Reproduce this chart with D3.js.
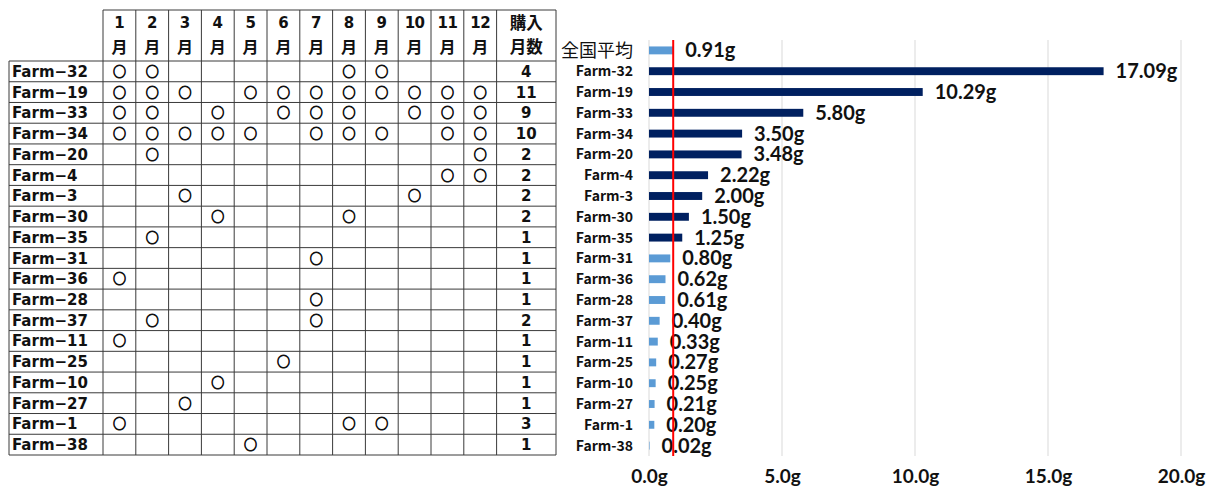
<!DOCTYPE html>
<html>
<head>
<meta charset="utf-8">
<script src="https://cdn.jsdelivr.net/npm/d3@7"></script>
<style>
  html, body { margin: 0; padding: 0; background: #fff; }
  svg { display: block; }
</style>
</head>
<body>
<svg id="chart" width="1215" height="495"></svg>
<script>
// Farms in display order (table rows and bars below the national average)
const farms = ["Farm-32","Farm-19","Farm-33","Farm-34","Farm-20","Farm-4","Farm-3","Farm-30","Farm-35",
               "Farm-31","Farm-36","Farm-28","Farm-37","Farm-11","Farm-25","Farm-10","Farm-27","Farm-1","Farm-38"];
// Months in which each farm purchased
const purchaseMonths = [
  [1,2,8,9],
  [1,2,3,5,6,7,8,9,10,11,12],
  [1,2,4,6,7,8,10,11,12],
  [1,2,3,4,5,7,8,9,11,12],
  [2,12],
  [11,12],
  [3,10],
  [4,8],
  [2],
  [7],
  [1],
  [7],
  [2,7],
  [1],
  [6],
  [4],
  [3],
  [1,8,9],
  [5]
];
// Number of purchase months (購入月数)
const monthCounts = [4,11,9,10,2,2,2,2,1,1,1,1,2,1,1,1,1,3,1];
const monthLabels = ["1","2","3","4","5","6","7","8","9","10","11","12"];

// Bar chart: national average followed by farms
const avgLabel = "全国平均";
const avgValue = 0.91;
const farmValues = [17.09,10.29,5.80,3.50,3.48,2.22,2.00,1.50,1.25,0.80,0.62,0.61,0.40,0.33,0.27,0.25,0.21,0.20,0.02];
const axisTicks = [0,5,10,15,20];

const svg = d3.select("#chart");
const NAVY = "#002060", LIGHT = "#5b9bd5";

// ---------- Table ----------
const tbl = svg.append("g");
const nameLeft = 9, nameRight = 103, monthW = 32.8;
const countRight = 556;
const monthX = d3.scaleLinear().domain([0, 12]).range([nameRight, nameRight + 12 * monthW]);
const countLeft = monthX(12);
const headTop = 10, headBottom = 61;
const rowY = d3.scaleBand().domain(farms).range([headBottom, 455]);
const lineColor = "#3a3a3a";
const cjkFont = "'Noto Sans CJK JP', 'DejaVu Sans', sans-serif";
const latFont = "'DejaVu Sans', sans-serif";

// horizontal lines
tbl.append("line").attr("x1", nameRight).attr("x2", countRight).attr("y1", headTop).attr("y2", headTop)
  .attr("stroke", lineColor).attr("stroke-width", 1);
const hLines = [headBottom].concat(farms.map(f => rowY(f) + rowY.bandwidth()));
tbl.selectAll("line.h").data(hLines).join("line").attr("class", "h")
  .attr("x1", nameLeft).attr("x2", countRight)
  .attr("y1", d => d).attr("y2", d => d)
  .attr("stroke", lineColor).attr("stroke-width", 1);
// vertical lines
tbl.append("line").attr("x1", nameLeft).attr("x2", nameLeft).attr("y1", headBottom).attr("y2", rowY.range()[1])
  .attr("stroke", lineColor).attr("stroke-width", 1);
const vLines = d3.range(13).map(i => monthX(i)).concat([countRight]);
tbl.selectAll("line.v").data(vLines).join("line").attr("class", "v")
  .attr("x1", d => d).attr("x2", d => d)
  .attr("y1", headTop).attr("y2", rowY.range()[1])
  .attr("stroke", lineColor).attr("stroke-width", 1);

// header
const head = tbl.append("g").attr("font-weight", "bold")
  .attr("text-anchor", "middle").attr("fill", "#111");
monthLabels.forEach((m, i) => {
  const cx = monthX(i + 0.5);
  head.append("text").attr("x", cx).attr("y", 28).attr("font-family", latFont)
    .attr("font-size", 15).attr("letter-spacing", m.length > 1 ? -0.5 : 0).text(m);
  head.append("text").attr("x", cx).attr("y", 53).attr("font-family", cjkFont)
    .attr("font-size", 16).text("月");
});
const cCx = (countLeft + countRight) / 2;
head.append("text").attr("x", cCx).attr("y", 29).attr("font-family", cjkFont).attr("font-size", 16.5).text("購入");
head.append("text").attr("x", cCx).attr("y", 53).attr("font-family", cjkFont).attr("font-size", 16.5).text("月数");

// rows
const rows = tbl.selectAll("g.row").data(farms).join("g").attr("class", "row").attr("fill", "#111");
rows.append("text")
  .attr("x", nameLeft + 3)
  .attr("y", f => rowY(f) + rowY.bandwidth() / 2 + 5.5)
  .attr("font-family", latFont).attr("font-size", 15).attr("font-weight", "bold")
  .text(f => f.replace("-", "−"));
rows.append("text")
  .attr("x", cCx)
  .attr("y", f => rowY(f) + rowY.bandwidth() / 2 + 5.5)
  .attr("text-anchor", "middle").attr("font-family", latFont).attr("font-size", 15).attr("font-weight", "bold")
  .text((f, i) => monthCounts[i]);
rows.each(function(f, i) {
  d3.select(this).selectAll("text.mark").data(purchaseMonths[i]).join("text").attr("class", "mark")
    .attr("x", m => monthX(m - 0.5))
    .attr("y", rowY(f) + rowY.bandwidth() / 2 + 4.5)
    .attr("text-anchor", "middle").attr("font-family", cjkFont).attr("font-size", 13)
    .attr("stroke", "#111").attr("stroke-width", 0.9)
    .text("○");
});

// ---------- Bar chart ----------
const cats = [avgLabel].concat(farms);
const vals = [avgValue].concat(farmValues);
const x = d3.scaleLinear().domain([0, 20]).range([649, 1181]);
const y = d3.scaleBand().domain(cats).range([40, 456]).paddingInner(0.62).paddingOuter(0.31);
const plotTop = 40, plotBottom = 456;
const numFont = "Lato, 'Open Sans', sans-serif";

const chart = svg.append("g");
// gridlines
chart.selectAll("line.grid").data(axisTicks).join("line").attr("class", "grid")
  .attr("x1", d => x(d)).attr("x2", d => x(d))
  .attr("y1", plotTop).attr("y2", plotBottom)
  .attr("stroke", "#d9d9d9").attr("stroke-width", 1);

// bars
chart.selectAll("rect.bar").data(cats).join("rect").attr("class", "bar")
  .attr("x", x(0))
  .attr("y", c => y(c))
  .attr("width", (c, i) => x(vals[i]) - x(0))
  .attr("height", y.bandwidth())
  .attr("fill", (c, i) => (i > 0 && vals[i] >= 1) ? NAVY : LIGHT);

// value labels
chart.selectAll("text.val").data(cats).join("text").attr("class", "val")
  .attr("x", (c, i) => x(vals[i]) + 12)
  .attr("y", c => y(c) + y.bandwidth() / 2 + 7)
  .attr("font-family", numFont).attr("font-weight", "bold").attr("font-size", 20)
  .attr("fill", "#111")
  .text((c, i) => vals[i].toFixed(2) + "g");

// category labels
const yAxis = d3.axisLeft(y).tickSize(0).tickPadding(16);
const yg = chart.append("g").attr("transform", `translate(${x(0)},0)`).call(yAxis);
yg.select(".domain").remove();
yg.selectAll("text")
  .attr("font-family", cjkFont).attr("font-weight", "bold").attr("font-size", 14).attr("fill", "#111")
  .attr("dy", "0.36em");
yg.selectAll("text").filter(d => d === avgLabel)
  .attr("font-weight", "normal").attr("font-size", 18);

// x axis labels
const xAxis = d3.axisBottom(x).tickValues(axisTicks).tickSize(0).tickPadding(0)
  .tickFormat(d => d.toFixed(1) + "g");
const xg = chart.append("g").attr("transform", "translate(0,469)").call(xAxis);
xg.select(".domain").remove();
xg.selectAll("text")
  .attr("font-family", numFont).attr("font-weight", "bold").attr("font-size", 19).attr("fill", "#111");

// national average reference line
chart.append("line")
  .attr("x1", x(avgValue)).attr("x2", x(avgValue))
  .attr("y1", plotTop).attr("y2", plotBottom)
  .attr("stroke", "#ff0000").attr("stroke-width", 2);
</script>
</body>
</html>
